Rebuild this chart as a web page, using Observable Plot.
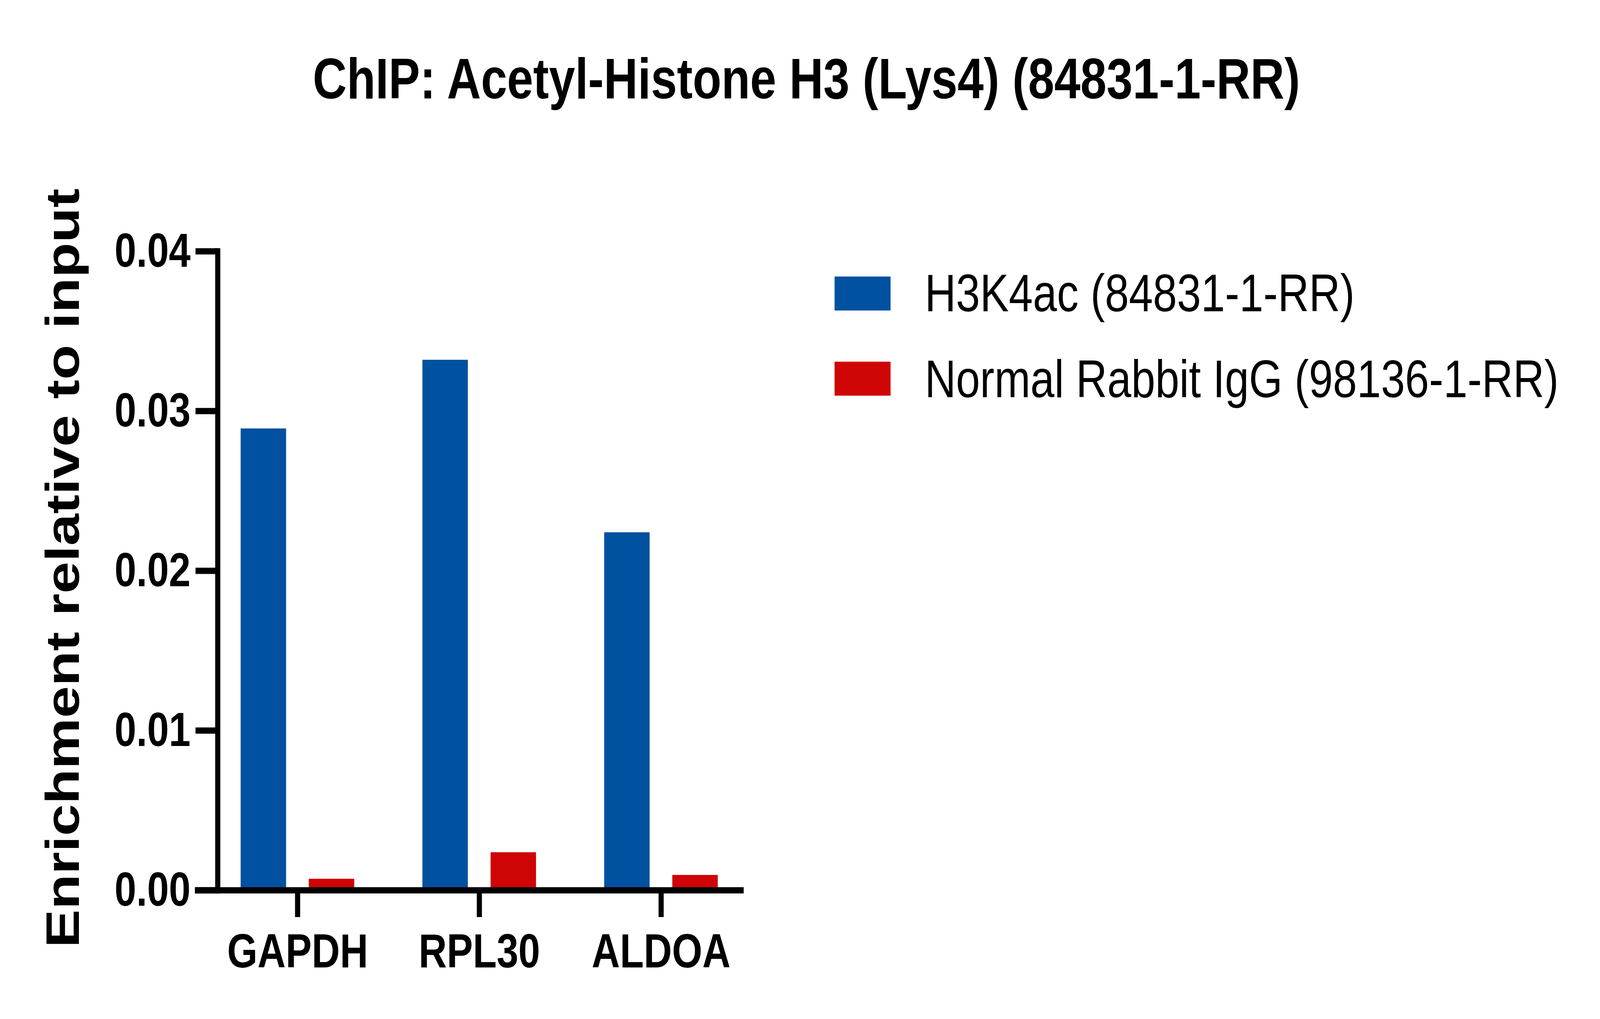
<!DOCTYPE html>
<html>
<head>
<meta charset="utf-8">
<script src="https://cdn.jsdelivr.net/npm/d3@7"></script>
<script src="https://cdn.jsdelivr.net/npm/@observablehq/plot@0.6"></script>
<style>
  html, body { margin: 0; padding: 0; background: #fff; overflow: hidden; }
  #wrap { position: relative; width: 5000px; height: 2609px; overflow: hidden; transform-origin: 0 0; font-family: "Liberation Sans", Arial, sans-serif; color: #000; }
  #wrap svg { display: block; position: absolute; left: 0; top: 0; max-width: none; }
  #title { position: absolute; left: 40px; width: 4960px; top: 128px; text-align: center; font-size: 147px; font-weight: bold; line-height: 1; white-space: nowrap; z-index: 2; }
  .sw { position: absolute; left: 2608px; width: 175px; height: 87px; z-index: 2; }
  .lt { position: absolute; left: 2890px; font-size: 135px; line-height: 1; white-space: nowrap; z-index: 2; }
</style>
</head>
<body>
<div id="wrap"></div>
<script>
// ---- data ----
const titleText = "ChIP: Acetyl-Histone H3 (Lys4) (84831-1-RR)";
const yLabel = "Enrichment relative to input";
const genes = ["GAPDH", "RPL30", "ALDOA"];
const seriesNames = ["H3K4ac (84831-1-RR)", "Normal Rabbit IgG (98136-1-RR)"];
const seriesColors = ["#0051A0", "#CF0404"];
const h3k4ac = [0.0289, 0.0332, 0.0224];
const igg = [0.00071, 0.00237, 0.00095];
const yTicks = [0, 0.01, 0.02, 0.03, 0.04];

const rows = genes.map((g, i) => ({gene: g, h3: h3k4ac[i], igg: igg[i]}));

const wrap = document.getElementById("wrap");

const chart = Plot.plot({
  width: 5000,
  height: 2609,
  marginTop: 643,
  marginBottom: 330,
  marginLeft: 680,
  marginRight: 2684,
  style: {fontFamily: "'Liberation Sans', Arial, sans-serif", background: "transparent", color: "black"},
  x: {domain: genes, paddingInner: 0.3743, paddingOuter: 0.1248, axis: null},
  y: {domain: [0, 0.04], axis: null},
  marks: [
    Plot.barY(rows, {x: "gene", y: "h3", fill: seriesColors[0], insetRight: 213}),
    Plot.barY(rows, {x: "gene", y: "igg", fill: seriesColors[1], insetLeft: 213}),
    Plot.axisX({tickSize: 69, tickPadding: 42, fontSize: 122, fontWeight: "bold", strokeWidth: 16, label: null}),
    Plot.ruleY([0], {strokeWidth: 16, insetLeft: -71, insetRight: -8}),
    Plot.frame({anchor: "left", strokeWidth: 16, strokeLinecap: "square"}),
    Plot.axisY(yTicks, {tickSize: 69, tickPadding: 16, tickFormat: d3.format(".2f"), fontSize: 122, fontWeight: "bold", strokeWidth: 16, label: null}),
    Plot.text([yLabel], {text: d => d, frameAnchor: "left", textAnchor: "middle", rotate: -90, dx: -481, dy: -7, fontSize: 147, fontWeight: "bold"})
  ]
});
wrap.appendChild(chart);

const title = document.createElement("div");
title.id = "title";
title.textContent = titleText;
wrap.appendChild(title);

// legend (HTML overlay)
const swTop = [708, 926];
const txTop = [683, 903];
seriesNames.forEach((name, i) => {
  const sw = document.createElement("div");
  sw.className = "sw";
  sw.style.top = swTop[i] + "px";
  sw.style.background = seriesColors[i];
  wrap.appendChild(sw);
  const t = document.createElement("div");
  t.className = "lt";
  t.style.top = txTop[i] + "px";
  t.textContent = name;
  wrap.appendChild(t);
});

// The window's real viewport can be narrower than the 5000px design width;
// fit the whole 5000x2609 composition into it.
function fit() {
  const sx = Math.min(1, window.innerWidth / 5000);
  const sy = Math.min(1, window.innerHeight / 2609);
  wrap.style.transform = `scale(${sx}, ${sy})`;
}
fit();
window.addEventListener("resize", fit);
</script>
</body>
</html>
